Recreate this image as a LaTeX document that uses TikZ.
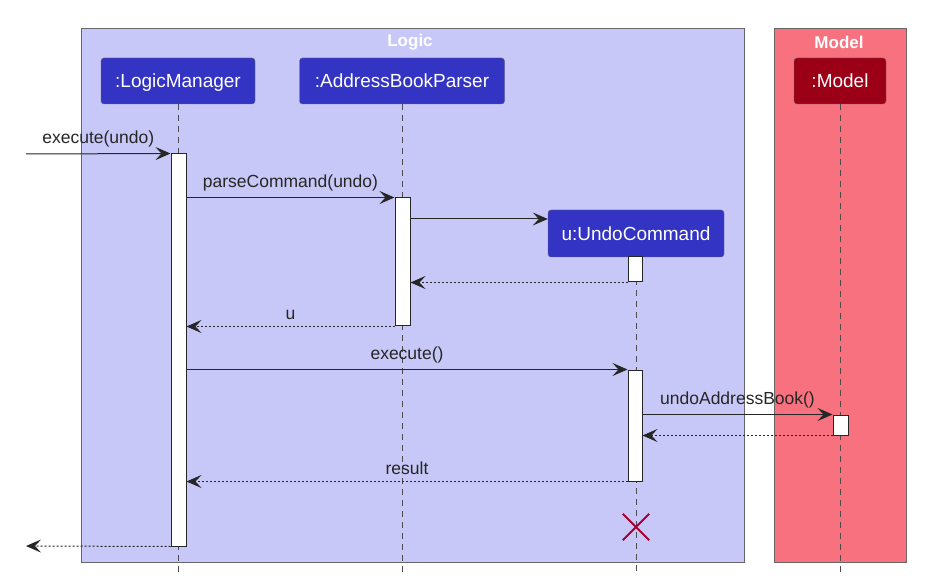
\documentclass[tikz,border=0pt]{standalone}
\usepackage{fontspec}
\setmainfont{Liberation Sans}
\usetikzlibrary{arrows.meta,positioning,calc}

\definecolor{logicbg}{HTML}{C8C8F8}
\definecolor{modelbg}{HTML}{F8717F}
\definecolor{logicfg}{HTML}{3333C4}
\definecolor{modelfg}{HTML}{9B0017}
\definecolor{crossred}{HTML}{A80036}

\begin{document}
\begin{tikzpicture}[
    x=1pt, y=-1pt,
    group/.style={draw=gray!80!black, line width=0.8pt},
    grouptitle/.style={font=\fontsize{17}{19}\selectfont\bfseries, text=white},
    actor/.style={draw=black!60, rounded corners=3pt, text=white, inner sep=0pt,
                  minimum height=46pt, text depth=0pt, font=\fontsize{19}{21}\selectfont},
    bar/.style={draw=black!85, fill=white, line width=1pt, minimum width=15pt, inner sep=0pt},
    life/.style={gray!60!black, line width=0.9pt, dash pattern=on 6pt off 5pt},
    msg/.style={-{Stealth[length=15pt, width=13pt, inset=6pt]}, line width=1pt, black!85},
    ret/.style={msg, dash pattern=on 2pt off 2pt},
    lbl/.style={font=\fontsize{17.5}{19}\selectfont, above=3pt}
]
    \useasboundingbox (0,0) rectangle (948,577);

    % boxes
    \fill[logicbg] (81,28) rectangle (744,562);
    \draw[group] (81,28) rectangle (744,562);
    \fill[modelbg] (774,28) rectangle (906,562);
    \draw[group] (774,28) rectangle (906,562);
    \node[grouptitle] (logicTitle) at (410,42) {Logic};
    \node[grouptitle] (modelTitle) at (839,42) {Model};

    % participants
    \node[actor, fill=logicfg, minimum width=154pt] (lm) at (178,81) {:LogicManager};
    \node[actor, fill=logicfg, minimum width=205pt] (abp) at (402,81) {:AddressBookParser};
    \node[actor, fill=modelfg, minimum width=92pt] (model) at (840,81) {:Model};
    \node[actor, fill=logicfg, minimum width=176pt, minimum height=47pt] (uc) at (636,233.5) {u:UndoCommand};

    % lifelines
    \coordinate (bottom) at (0,574);
    \draw[life] (lm.south) -- (lm.south |- bottom);
    \draw[life] (abp.south) -- (abp.south |- bottom);
    \draw[life] (model.south) -- (model.south |- bottom);
    \draw[life] (uc.south) -- (uc.south |- bottom);

    % activations
    \node[bar, minimum height=392pt] (lmAct) at (178.5,350) {};
    \node[bar, minimum height=128pt] (abpAct) at (402.5,262) {};
    \node[bar, minimum height=25pt, minimum width=14pt] (ucAct1) at (635,269.5) {};
    \node[bar, minimum height=111pt, minimum width=14pt] (ucAct2) at (635,425.5) {};
    \node[bar, minimum height=20pt] (mAct) at (840.5,425) {};

    % messages
    \coordinate (in) at (26,154);
    \coordinate (out) at (26,546);
    \coordinate (createY) at (0,219);
    \draw[msg] (in) -- node[lbl] {execute(undo)} (lmAct.north west);
    \draw[msg] (lmAct.east |- abpAct.north) -- node[lbl] {parseCommand(undo)} (abpAct.north west);
    \draw[msg] (abpAct.east |- createY) -- (uc.west |- createY);
    \draw[ret] (ucAct1.south west) -- (abpAct.east |- ucAct1.south);
    \draw[ret] (abpAct.south west) -- node[lbl] {u} (lmAct.east |- abpAct.south);
    \draw[msg] (lmAct.east |- ucAct2.north) -- node[lbl] {execute()} (ucAct2.north west);
    \draw[msg] (ucAct2.east |- mAct.north) -- node[lbl] {undoAddressBook()} (mAct.north west);
    \draw[ret] (mAct.south west) -- (ucAct2.east |- mAct.south);
    \draw[ret] (ucAct2.south west) -- node[lbl] {result} (lmAct.east |- ucAct2.south);
    \draw[ret] (lmAct.south west) -- (out);

    % destroy
    \node[inner sep=0pt, minimum size=26pt] (destroy) at (636,527) {};
    \draw[crossred, line width=1.8pt] (destroy.north west) -- (destroy.south east)
        (destroy.north east) -- (destroy.south west);
\end{tikzpicture}
\end{document}
